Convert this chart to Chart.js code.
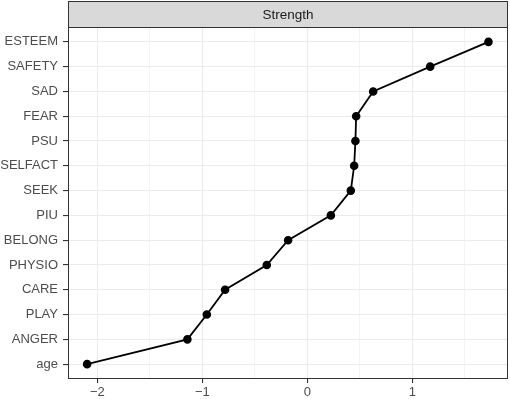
<!DOCTYPE html>
<html>
<head>
<meta charset="utf-8">
<script src="https://cdn.jsdelivr.net/npm/chart.js@4/dist/chart.umd.min.js"></script>
<style>
  body { margin: 0; background: #fff; }
  canvas { display: block; }
</style>
</head>
<body>
<canvas id="chart" width="510" height="399"></canvas>
<script>
// nodes, top to bottom
const nodes = ['ESTEEM', 'SAFETY', 'SAD', 'FEAR', 'PSU', 'SELFACT', 'SEEK', 'PIU', 'BELONG', 'PHYSIO', 'CARE', 'PLAY', 'ANGER', 'age'];
const strength = [1.724, 1.169, 0.626, 0.464, 0.457, 0.445, 0.413, 0.223, -0.184, -0.387, -0.784, -0.958, -1.143, -2.098];
const xTicks = [-2, -1.5, -1, -0.5, 0, 0.5, 1, 1.5];
const panelTitle = 'Strength';

const FONT = "'Liberation Sans', Arial, Helvetica, sans-serif";

const isMajor = v => Number.isInteger(v);

const stripPlugin = {
    id: 'strip',
    afterDraw(chart) {
        const { ctx, chartArea } = chart;
        ctx.save();
        // panel border
        ctx.strokeStyle = '#333333';
        ctx.lineWidth = 1;
        ctx.strokeRect(chartArea.left + 0.5, chartArea.top + 0.5, chartArea.right - chartArea.left - 1, chartArea.bottom - chartArea.top - 1);
        // facet strip
        ctx.fillStyle = '#D9D9D9';
        ctx.fillRect(chartArea.left, 1, chartArea.right - chartArea.left, chartArea.top - 1);
        ctx.strokeRect(chartArea.left + 0.5, 1.5, chartArea.right - chartArea.left - 1, chartArea.top - 1);
        ctx.fillStyle = '#1A1A1A';
        ctx.font = '13.5px ' + FONT;
        ctx.textAlign = 'center';
        ctx.textBaseline = 'middle';
        ctx.fillText(panelTitle, (chartArea.left + chartArea.right) / 2, (chartArea.top + 1) / 2 + 1);
        ctx.restore();
    }
};

new Chart(document.getElementById('chart'), {
    type: 'scatter',
    data: {
        datasets: [{
            data: strength.map((v, i) => ({ x: v, y: i })),
            showLine: true,
            borderColor: '#000',
            backgroundColor: '#000',
            borderWidth: 1.8,
            pointRadius: 3.4,
            pointHoverRadius: 3.4,
            tension: 0
        }]
    },
    options: {
        responsive: false,
        animation: false,
        layout: { autoPadding: false, padding: { top: 27, right: 2, left: 0, bottom: 0 } },
        plugins: { legend: { display: false }, tooltip: { enabled: false } },
        scales: {
            x: {
                type: 'linear',
                min: -2.28,
                max: 1.91,
                afterBuildTicks: axis => { axis.ticks = xTicks.map(v => ({ value: v })); },
                afterFit: axis => { axis.height = 20; axis.paddingRight = 0; },
                border: { display: false },
                grid: {
                    color: '#EBEBEB',
                    lineWidth: c => isMajor(c.tick.value) ? 1.1 : 0.6,
                    tickColor: c => isMajor(c.tick.value) ? '#333333' : 'rgba(0,0,0,0)',
                    tickLength: 4
                },
                ticks: {
                    autoSkip: false,
                    maxRotation: 0,
                    padding: 2,
                    color: '#4D4D4D',
                    font: { family: FONT, size: 13 },
                    callback: v => isMajor(v) ? String(v).replace('-', '\u2212') : ''
                }
            },
            y: {
                type: 'linear',
                reverse: true,
                min: -0.6,
                max: nodes.length - 0.4,
                afterBuildTicks: axis => { axis.ticks = nodes.map((n, i) => ({ value: i })); },
                afterFit: axis => { axis.width = 68; },
                border: { display: false },
                grid: {
                    color: '#EBEBEB',
                    lineWidth: 1.1,
                    tickColor: '#333333',
                    tickLength: 5
                },
                ticks: {
                    autoSkip: false,
                    padding: 5,
                    color: '#4D4D4D',
                    font: { family: FONT, size: 13 },
                    callback: v => nodes[v]
                }
            }
        }
    },
    plugins: [stripPlugin]
});
</script>
</body>
</html>
